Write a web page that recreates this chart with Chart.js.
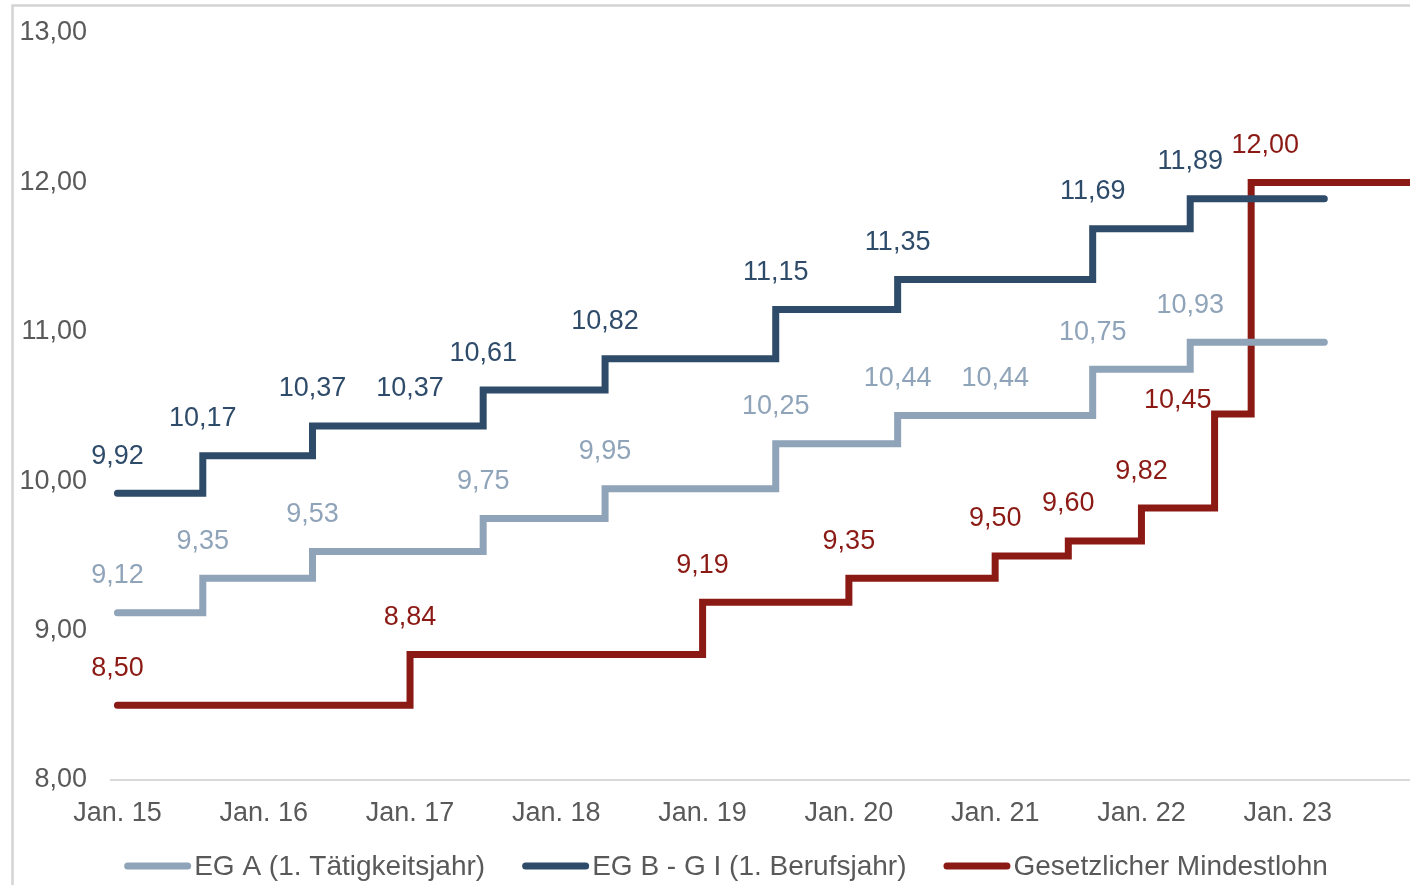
<!DOCTYPE html>
<html><head><meta charset="utf-8">
<script src="https://cdn.jsdelivr.net/npm/chart.js@4/dist/chart.umd.min.js"></script>
<style>html,body{margin:0;padding:0;background:#fff;overflow:hidden}canvas{display:block}</style>
</head><body>
<canvas id="c" width="1410" height="885"></canvas>
<script>
// ---- data ----
const xTickMonths = [0, 12, 24, 36, 48, 60, 72, 84, 96];
const xTickLabels = ['Jan. 15','Jan. 16','Jan. 17','Jan. 18','Jan. 19','Jan. 20','Jan. 21','Jan. 22','Jan. 23'];
const yTickValues = [8, 9, 10, 11, 12, 13];
const seriesNames = ['EG A (1. Tätigkeitsjahr)', 'EG B - G I (1. Berufsjahr)', 'Gesetzlicher Mindestlohn'];

// step points (month index from Jan. 15, value from that month on)
const egaMonths = [0, 7, 16, 30, 40, 54, 64, 80, 88, 99];
const egaValues = [9.12, 9.35, 9.53, 9.75, 9.95, 10.25, 10.44, 10.75, 10.93, 10.93];
const egbMonths = [0, 7, 16, 30, 40, 54, 64, 80, 88, 99];
const egbValues = [9.92, 10.17, 10.37, 10.61, 10.82, 11.15, 11.35, 11.69, 11.89, 11.89];
const mlMonths = [0, 24, 48, 60, 72, 78, 84, 90, 93, 110];
const mlValues = [8.50, 8.84, 9.19, 9.35, 9.50, 9.60, 9.82, 10.45, 12.00, 12.00];

// value labels
const egaLabelMonths = [0, 7, 16, 30, 40, 54, 64, 72, 80, 88];
const egaLabelValues = [9.12, 9.35, 9.53, 9.75, 9.95, 10.25, 10.44, 10.44, 10.75, 10.93];
const egbLabelMonths = [0, 7, 16, 24, 30, 40, 54, 64, 80, 88];
const egbLabelValues = [9.92, 10.17, 10.37, 10.37, 10.61, 10.82, 11.15, 11.35, 11.69, 11.89];
const mlLabelMonths = [0, 24, 48, 60, 72, 78, 84, 90, 93];
const mlLabelValues = [8.50, 8.84, 9.19, 9.35, 9.50, 9.60, 9.82, 10.45, 12.00];

// ---- styles ----
const colors = ['#8fa3b9', '#2f4b6a', '#8b1a15'];
const FONT = '"Liberation Sans", Arial, sans-serif';
const TEXT = '#595959';
const labelPlacement = { 2: { 7: 'left', 8: 'aboveRight' } };

const fmt = v => v.toFixed(2).replace('.', ',');
const toPts = (ms, vs) => ms.map((m, i) => ({ x: m, y: vs[i] }));

const labelSets = [
  [egaLabelMonths, egaLabelValues],
  [egbLabelMonths, egbLabelValues],
  [mlLabelMonths, mlLabelValues]
];

const framePlugin = {
  id: 'frame',
  beforeDraw(chart) {
    const ctx = chart.ctx;
    ctx.save();
    ctx.strokeStyle = '#d4d4d4';
    ctx.lineWidth = 2.5;
    ctx.beginPath();
    ctx.moveTo(12.5, chart.height);
    ctx.lineTo(12.5, 5.5);
    ctx.lineTo(chart.width, 5.5);
    ctx.stroke();
    ctx.restore();
  }
};

const valueLabelPlugin = {
  id: 'valueLabels',
  afterDatasetsDraw(chart) {
    const ctx = chart.ctx;
    const xs = chart.scales.x, ys = chart.scales.y;
    ctx.save();
    ctx.font = '27px ' + FONT;
    ctx.textBaseline = 'middle';
    labelSets.forEach(([ms, vs], si) => {
      ctx.fillStyle = colors[si];
      ms.forEach((m, i) => {
        const px = xs.getPixelForValue(m);
        const py = ys.getPixelForValue(vs[i]);
        const place = (labelPlacement[si] || {})[i] || 'above';
        if (place === 'left') {
          ctx.textAlign = 'right';
          ctx.fillText(fmt(vs[i]), px - 3, py - 13);
        } else if (place === 'aboveRight') {
          ctx.textAlign = 'center';
          ctx.fillText(fmt(vs[i]), px + 14, py - 37);
        } else {
          ctx.textAlign = 'center';
          ctx.fillText(fmt(vs[i]), px, py - 37);
        }
      });
    });
    ctx.restore();
  }
};

const legendPlugin = {
  id: 'customLegend',
  afterDraw(chart) {
    const ctx = chart.ctx;
    ctx.save();
    ctx.font = '28px ' + FONT;
    const sample = 67, gapText = 3, gapItem = 37, lw = 7;
    const widths = seriesNames.map(n => ctx.measureText(n).width);
    const total = widths.reduce((a, w) => a + sample + gapText + w, 0) + gapItem * (seriesNames.length - 1);
    let x = 726 - total / 2;
    const y = 866;
    seriesNames.forEach((n, i) => {
      ctx.strokeStyle = colors[i];
      ctx.lineWidth = lw;
      ctx.lineCap = 'round';
      ctx.beginPath();
      ctx.moveTo(x + lw / 2, y);
      ctx.lineTo(x + sample - lw / 2, y);
      ctx.stroke();
      ctx.fillStyle = TEXT;
      ctx.textAlign = 'left';
      ctx.textBaseline = 'middle';
      ctx.fillText(n, x + sample + gapText, y + 1);
      x += sample + gapText + widths[i] + gapItem;
    });
    ctx.restore();
  }
};

const mkDs = (name, ms, vs, col) => ({
  label: name,
  data: toPts(ms, vs),
  borderColor: col,
  backgroundColor: col,
  borderWidth: 7,
  stepped: 'before',
  pointRadius: 0,
  borderCapStyle: 'round',
  borderJoinStyle: 'miter',
  fill: false
});

new Chart(document.getElementById('c'), {
  type: 'line',
  data: {
    datasets: [
      mkDs(seriesNames[0], egaMonths, egaValues, colors[0]),
      mkDs(seriesNames[1], egbMonths, egbValues, colors[1]),
      mkDs(seriesNames[2], mlMonths, mlValues, colors[2])
    ]
  },
  options: {
    responsive: false,
    devicePixelRatio: 1,
    animation: false,
    layout: { padding: { left: 12, top: 33, right: 0, bottom: 45 } },
    plugins: { legend: { display: false }, tooltip: { enabled: false } },
    scales: {
      x: {
        type: 'linear',
        min: -0.53,
        max: 106.03,
        grid: { display: false, drawTicks: false },
        border: { display: true, color: '#d9d9d9', width: 2 },
        afterBuildTicks(scale) { scale.ticks = xTickMonths.map(v => ({ value: v })); },
        afterFit(scale) { scale.height = 60; },
        ticks: {
          autoSkip: false, maxRotation: 0, padding: 17,
          color: TEXT, font: { family: FONT, size: 27 },
          callback: v => xTickLabels[xTickMonths.indexOf(v)]
        }
      },
      y: {
        min: 8, max: 13,
        grid: { display: false, drawTicks: true, tickLength: 24 },
        border: { display: false },
        afterBuildTicks(scale) { scale.ticks = yTickValues.map(v => ({ value: v })); },
        afterFit(scale) { scale.width = 99; },
        ticks: {
          padding: 0, color: TEXT, font: { family: FONT, size: 27 },
          callback: v => fmt(v)
        }
      }
    }
  },
  plugins: [framePlugin, valueLabelPlugin, legendPlugin]
});
</script>
</body></html>
